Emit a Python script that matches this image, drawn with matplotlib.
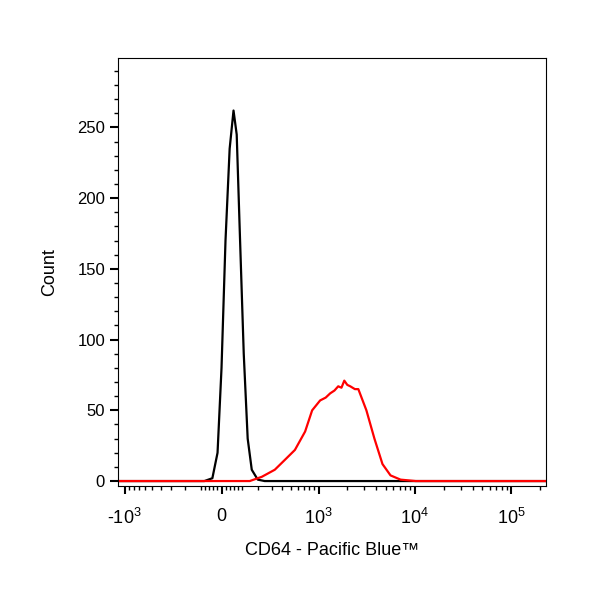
import numpy as np
import matplotlib
matplotlib.use("Agg")
import matplotlib.pyplot as plt

plt.rcParams["font.family"] = ["Liberation Sans", "DejaVu Sans"]
plt.rcParams["mathtext.fontset"] = "custom"
plt.rcParams["mathtext.rm"] = "Liberation Sans"

# biexponential-like display: arcsinh with linear width 200
C = 200.0
def fwd(x):
    return np.arcsinh(np.asarray(x, float) / C) / np.log(10)
def inv(f):
    return C * np.sinh(np.asarray(f, float) * np.log(10))

black_x = [-1166, -84, -44, -19, 0, 19, 39, 58, 74, 89, 111, 133, 157, 195, 244, 229000]
black_y = [0, 0, 2, 20, 80, 170, 235, 262, 245, 180, 90, 30, 8, 1, 0, 0]

red_x = [-1166, 145, 223, 328, 431, 558, 720, 856, 1040, 1190, 1326, 1470, 1610, 1740,
         1862, 2000, 2148, 2400, 2606, 3160, 3828, 4640, 5620, 7140, 10240, 229000]
red_y = [0, 0, 3, 8, 15, 22, 35, 50, 57, 59, 62, 64, 67, 66, 71, 68, 67, 65, 65, 50,
         30, 12, 4, 1, 0, 0]

major = [-1000, 0, 1000, 1e4, 1e5]
major_labels = ["-10$^{\\mathregular{3}}$", "0", "10$^{\\mathregular{3}}$",
                "10$^{\\mathregular{4}}$", "10$^{\\mathregular{5}}$"]
minor = ([-k * 100 for k in range(2, 10)] + [k * 20 for k in range(-5, 6) if k] +
         [k * 100 for k in range(2, 10)] + [k * 1000 for k in range(2, 10)] +
         [k * 10000 for k in range(2, 10)] + [2e5])

fig = plt.figure(figsize=(6, 6), dpi=100)
ax = fig.add_axes([0.197, 0.19, 0.713, 0.713])
ax.set_xscale("function", functions=(fwd, inv))
ax.plot(black_x, black_y, color="black", lw=1.6)
ax.plot(red_x, red_y, color="red", lw=1.6)
ax.set_xlim(-1166, 229000)
ax.set_ylim(-3.5, 299)

ax.set_xticks(major)
ax.set_xticklabels(major_labels, fontsize=13)
ax.set_xticks(minor, minor=True)
ax.set_yticks(range(0, 251, 50))
ax.set_yticks(range(0, 300, 10), minor=True)
ax.tick_params(axis="both", direction="out", length=6, width=1.5, labelsize=12)
ax.tick_params(axis="x", labelsize=13, pad=10)
ax.tick_params(axis="both", which="minor", direction="out", length=3, width=1)

ax.set_xlabel("CD64 - Pacific Blue\u2122", fontsize=13, labelpad=10)
ax.set_ylabel("Count", fontsize=13, labelpad=14)
fig.savefig("out.png", dpi=100)
